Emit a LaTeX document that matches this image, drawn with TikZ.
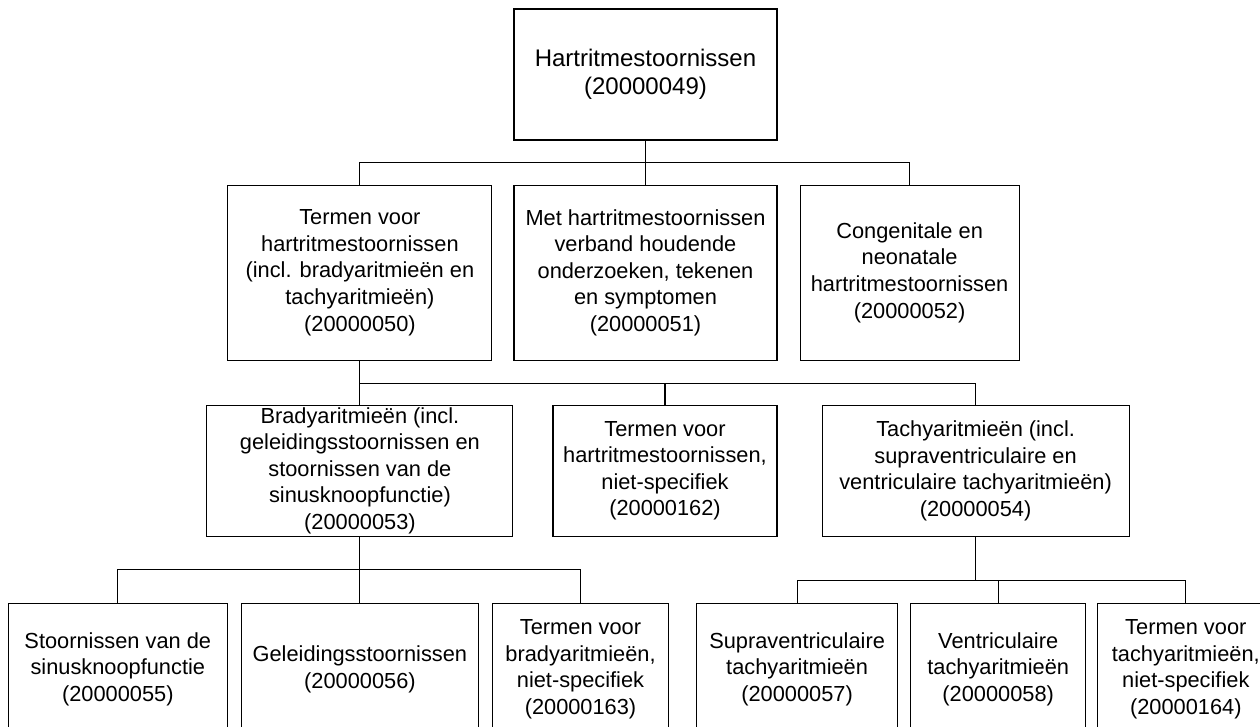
\documentclass[tikz,border=0pt]{standalone}
\usepackage{fontspec}
\setmainfont{Liberation Sans}
\usetikzlibrary{positioning}

\begin{document}
\begin{tikzpicture}[x=1pt,y=-1pt,line width=1.1pt,
	main node/.style={rectangle,draw,align=center,inner sep=0pt,minimum height=131pt,
		font=\fontsize{21.8}{26.6}\selectfont},
	elbow/.style={to path={-- ++(0,#1) -| (\tikztotarget)}},
	elbow/.default=22]

	\path[use as bounding box,clip] (0,0) rectangle (1260,727);

	\node[main node,minimum width=263pt,font=\fontsize{24}{28.3}\selectfont] (1) at (645.5,74.5) {Hartritmestoornissen\\(20000049)};
	\node[main node,minimum width=263pt,minimum height=175pt] (3) [below=44pt of 1] {Met hartritmestoornissen\\verband houdende\\onderzoeken, tekenen\\en symptomen\\(20000051)};
	\node[main node,minimum width=264pt,minimum height=175pt] (2) [left=21pt of 3] {Termen voor\\hartritmestoornissen\\(incl. bradyaritmieën en\\tachyaritmieën)\\(20000050)};
	\node[main node,minimum width=219pt,minimum height=175pt] (4) [right=22pt of 3] {Congenitale en\\neonatale\\hartritmestoornissen\\(20000052)};
	\node[main node,minimum width=306pt] (5) [below=44pt of 2] {Bradyaritmieën (incl.\\geleidingsstoornissen en\\stoornissen van de\\sinusknoopfunctie)\\(20000053)};
	\node[main node,minimum width=224pt] (6) [right=39pt of 5] {Termen voor\\hartritmestoornissen,\\niet-specifiek\\(20000162)};
	\node[main node,minimum width=307pt] (7) [right=44pt of 6] {Tachyaritmieën (incl.\\supraventriculaire en\\ventriculaire tachyaritmieën)\\(20000054)};
	\node[main node,minimum width=237pt,minimum height=132pt] (9) [below=66pt of 5] {Geleidingsstoornissen\\(20000056)};
	\node[main node,minimum width=219pt,minimum height=132pt] (8) [left=13pt of 9] {Stoornissen van de\\sinusknoopfunctie\\(20000055)};
	\node[main node,minimum width=176pt,minimum height=132pt] (10) [right=13pt of 9] {Termen voor\\bradyaritmieën,\\niet-specifiek\\(20000163)};
	\node[main node,minimum width=201pt,minimum height=132pt] (11) [right=27pt of 10] {Supraventriculaire\\tachyaritmieën\\(20000057)};
	\node[main node,minimum width=175pt,minimum height=132pt] (12) [right=12pt of 11] {Ventriculaire\\tachyaritmieën\\(20000058)};
	\node[main node,minimum width=176pt,minimum height=132pt] (13) [right=11pt of 12] {Termen voor\\tachyaritmieën,\\niet-specifiek\\(20000164)};

	\path[draw]
		(1.south) edge[elbow=22] (2.north)
		          edge[elbow=22] (3.north)
		          edge[elbow=22] (4.north)
		(2.south) edge[elbow=23] (5.north)
		          edge[elbow=23] (6.north)
		          edge[elbow=23] (7.north)
		(5.south) edge[elbow=33] (8.north)
		          edge[elbow=33] (9.north)
		          edge[elbow=33] (10.north)
		(7.south) edge[elbow=44] (11.north)
		          edge[elbow=44] (12.north)
		          edge[elbow=44] (13.north);
\end{tikzpicture}
\end{document}
